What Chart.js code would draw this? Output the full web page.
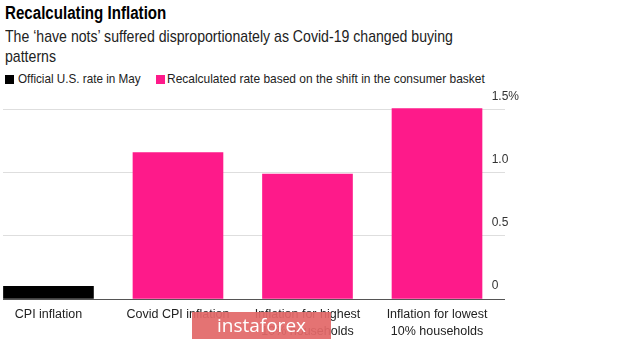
<!DOCTYPE html>
<html>
<head>
<meta charset="utf-8">
<script src="https://cdn.jsdelivr.net/npm/chart.js"></script>
<style>
  body { margin: 0; background: #fff; font-family: "Liberation Sans", Arial, sans-serif; }
  .wrap { position: relative; width: 620px; height: 341px; overflow: hidden; }
  .cond { position: absolute; white-space: nowrap; transform-origin: 0 0; }
  #title { left: 5px; top: 3px; font-size: 18px; font-weight: bold; color: #000; line-height: 20px; transform: scaleX(0.84); }
  #subtitle { left: 5px; top: 27px; font-size: 17px; color: #222; line-height: 20px; transform: scaleX(0.83); }
  .lbox { position: absolute; top: 75px; width: 9px; height: 9px; }
  .ltext { top: 71px; font-size: 13px; color: #222; line-height: 16px; }
  #chartBox { position: absolute; left: 0; top: 81px; width: 620px; height: 266px; }
  #mark { position: absolute; left: 192px; top: 312px; width: 139px; height: 27px; background: rgba(226, 104, 104, 0.93);
          color: #fff; font-family: "Open Sans", sans-serif; font-size: 19px; line-height: 27px; text-align: center; }
</style>
</head>
<body>
<div class="wrap">
  <div id="title" class="cond">Recalculating Inflation</div>
  <div id="subtitle" class="cond">The ‘have nots’ suffered disproportionately as Covid-19 changed buying<br>patterns</div>
  <div class="lbox" style="left:5px;background:#000"></div>
  <div class="ltext cond" style="left:18px;transform:scaleX(0.9)">Official U.S. rate in May</div>
  <div class="lbox" style="left:156px;background:#fe1a8a"></div>
  <div class="ltext cond" style="left:167px;transform:scaleX(0.92)">Recalculated rate based on the shift in the consumer basket</div>
  <div id="chartBox"><canvas id="chart"></canvas></div>
  <div id="mark">instaforex</div>
</div>
<script>
// Data
const categories = ['CPI inflation', 'Covid CPI inflation', ['Inflation for highest', '10% households'], ['Inflation for lowest', '10% households']];
const officialValues = [0.1, null, null, null];
const recalculatedValues = [null, 1.16, 0.99, 1.51];
const yTicks = [0, 0.5, 1, 1.5];

const FONT = '"Liberation Sans", Arial, sans-serif';

function toPoints(values) {
  return values.map((v, i) => ({ x: i, y: v })).filter(p => p.y !== null);
}

new Chart(document.getElementById('chart'), {
  type: 'bar',
  data: {
    datasets: [
      { label: 'Official U.S. rate in May', data: toPoints(officialValues), backgroundColor: '#000', barThickness: 90 },
      { label: 'Recalculated rate based on the shift in the consumer basket', data: toPoints(recalculatedValues), backgroundColor: '#fe1a8a', barThickness: 90 }
    ]
  },
  options: {
    responsive: true,
    maintainAspectRatio: false,
    animation: false,
    grouped: false,
    layout: { padding: { left: 3, right: 87, top: 0, bottom: 0 } },
    plugins: {
      legend: { display: false },
      tooltip: { enabled: false }
    },
    scales: {
      x: {
        type: 'linear',
        offset: false,
        min: -0.351,
        max: 3.525,
        afterBuildTicks: (s) => { s.ticks = categories.map((c, i) => ({ value: i })); },
        grid: { display: false, drawTicks: false },
        border: { display: false },
        ticks: {
          autoSkip: false,
          maxRotation: 0,
          padding: 7,
          color: '#222',
          font: { family: FONT, size: 12.5, lineHeight: 1.36 },
          callback: (v) => categories[v] !== undefined ? categories[v] : ''
        }
      },
      y: {
        position: 'right',
        min: 0,
        max: 1.56,
        afterBuildTicks: (s) => { s.ticks = yTicks.map(v => ({ value: v })); },
        border: { display: false },
        grid: {
          drawTicks: false,
          color: (ctx) => ctx.tick && ctx.tick.value === 0 ? '#555' : '#dedede',
          lineWidth: 1
        },
        ticks: {
          mirror: true,
          crossAlign: 'far',
          padding: 14,
          labelOffset: -13,
          color: '#333',
          font: { family: FONT, size: 12 },
          callback: (v) => v === 1.5 ? '1.5%' : (v === 0 ? '0' : v.toFixed(1))
        }
      }
    }
  }
});
</script>
</body>
</html>
